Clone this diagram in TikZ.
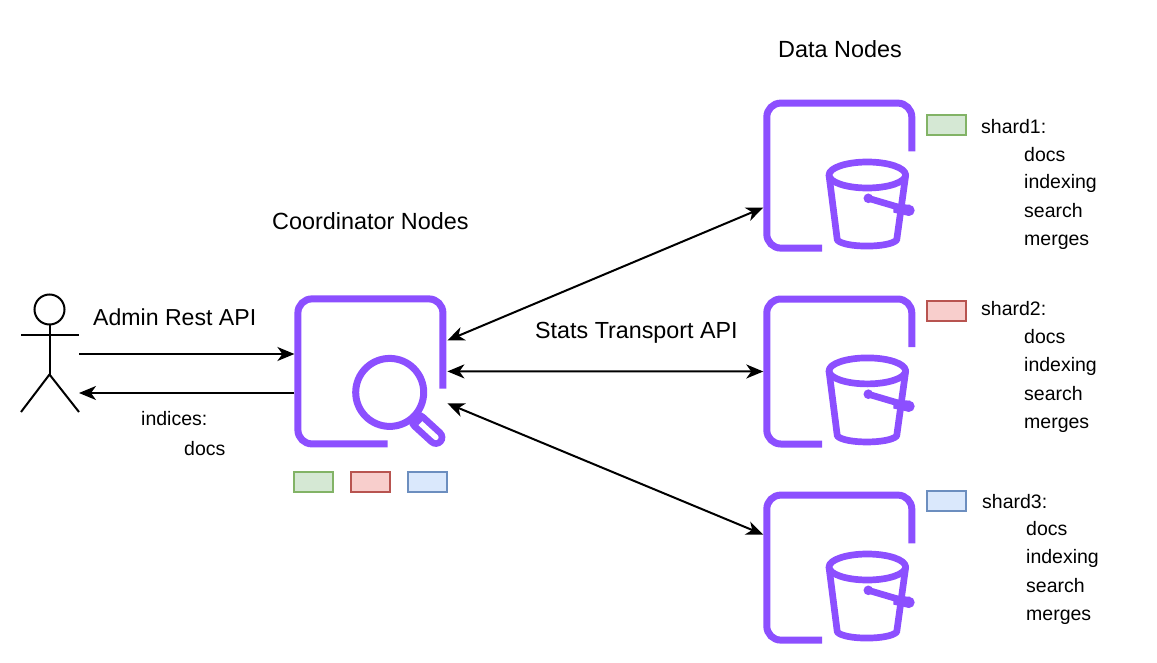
\documentclass[tikz,border=0pt]{standalone}
\usepackage{fontspec}
\setmainfont{Liberation Sans}
\usetikzlibrary{arrows.meta}
\definecolor{awspurple}{HTML}{8C4FFF}
\tikzset{
  frameline/.style={draw=awspurple,line width=7pt,rounded corners=14pt},
  bucketline/.style={draw=awspurple,line width=6.7pt,line join=round,line cap=round},
  iconbox/.style={minimum size=152pt,inner sep=0pt,outer sep=0pt},
  link/.style={draw=black,line width=2pt,>={Stealth[length=17pt,width=14pt,inset=5pt]}},
  actorline/.style={draw=black,line width=2pt},
  big/.style={anchor=base west,inner sep=0pt,font=\fontsize{23.4}{28}\selectfont},
  small/.style={anchor=base west,inner sep=0pt,font=\fontsize{19.5}{24}\selectfont},
  swatch/.style={line width=2pt,minimum width=39pt,minimum height=20pt,inner sep=0pt},
  greenswatch/.style={swatch,draw=green1,fill=green2},
  redswatch/.style={swatch,draw=red1,fill=red2},
  blueswatch/.style={swatch,draw=blue1,fill=blue2},
  searchicon/.pic={
    \draw[frameline] (72.5,17.3) -- (72.5,-72.5) -- (-72.5,-72.5) -- (-72.5,72.5) -- (17.3,72.5);
    \draw[draw=awspurple,line width=7pt] (19.3,21) circle[radius=34pt];
    \draw[draw=awspurple,line width=19pt,line cap=round] (48,50) -- (65.5,66);
    \draw[draw=white,line width=5.5pt,line cap=round] (48,50) -- (65.5,66);
    \draw[draw=awspurple,line width=7pt] (44,45.5) -- (50,51.5);
  },
  dataicon/.pic={
    \draw[frameline] (72.5,-24.3) -- (72.5,-72.5) -- (-72.5,-72.5) -- (-72.5,72.5) -- (-17.3,72.5);
    \draw[bucketline] (28,-0.6) ellipse[x radius=38.3pt,y radius=13pt];
    \draw[bucketline] (-10.3,-0.6) -- (-2,64.4) .. controls (5,72.5) and (50,72.5) .. (57.4,64.4) -- (66.4,-0.6);
    \draw[bucketline] (29,22.7) -- (70.7,35);
    \fill[awspurple] (29,22.7) circle[radius=4.8pt] (69.8,34.8) circle[radius=5.6pt];
    \fill[awspurple] (54,28) -- (71,29.2) -- (69.8,40.4) -- (54,37) -- cycle;
  }
}
\definecolor{green1}{HTML}{82B366}\definecolor{green2}{HTML}{D5E8D4}
\definecolor{red1}{HTML}{B85450}\definecolor{red2}{HTML}{F8CECC}
\definecolor{blue1}{HTML}{6C8EBF}\definecolor{blue2}{HTML}{DAE8FC}
\begin{document}
\begin{tikzpicture}[x=1pt,y=-1pt]
\useasboundingbox (0,0) rectangle (1157,663);
% icons
\node[iconbox] (coord) at (370.4,371.4) {};
\node[iconbox] (data1) at (839.3,175.6) {};
\node[iconbox] (data2) at (839.3,371.5) {};
\node[iconbox] (data3) at (839.3,567.6) {};
\pic at (coord.center) {searchicon};
\pic at (data1.center) {dataicon};
\pic at (data2.center) {dataicon};
\pic at (data3.center) {dataicon};
% actor
\node[draw=black,line width=2pt,circle,minimum size=30pt,inner sep=0pt,outer sep=0pt] (head) at (49.5,309.5) {};
\coordinate (hip) at (49.5,374.5);
\coordinate (armL) at (21,334.5);
\coordinate (armR) at (79,334.5);
\coordinate (footL) at (21,412);
\coordinate (footR) at (79,412);
\draw[actorline] (head.south) -- (hip);
\draw[actorline] (armL) -- (armR);
\draw[actorline] (footL) -- (hip) -- (footR);
% connectors
\coordinate (actorIn) at (79,354);
\coordinate (actorOut) at (79,393);
\draw[link,->] (actorIn) -- (actorIn -| coord.west);
\draw[link,->] (actorOut -| coord.west) -- (actorOut);
\draw[link,<->] ([xshift=1pt,yshift=31pt]coord.east) -- ([yshift=-32pt]data1.west);
\draw[link,<->] ([xshift=1pt]coord.east) -- (data2.west);
\draw[link,<->] ([xshift=1pt,yshift=-32pt]coord.east) -- ([yshift=33pt]data3.west);
% swatches
\node[greenswatch] (s1) at (313.5,481.5) {};
\node[redswatch] (s2) at (370.5,481.5) {};
\node[blueswatch] (s3) at (427.5,481.5) {};
\node[greenswatch] (g1) at (946.5,125) {};
\node[redswatch] (g2) at (946.5,311) {};
\node[blueswatch] (g3) at (946.5,501) {};
% labels
\node[big] (t1) at (778,58) {Data Nodes};
\node[big] (t2) at (272,229.5) {Coordinator Nodes};
\node[big,font=\fontsize{23.1}{28}\selectfont] (t3) at (93,325) {Admin Rest API};
\node[big,font=\fontsize{23.3}{28}\selectfont] (t4) at (535,338) {Stats Transport API};
\node[small] (t5) at (141,425) {indices:};
\node[small] (t6) at (184,455) {docs};
\node[small] (a0) at (981,134) {shard1:};
\node[small] (a1) at (1024,162) {docs};
\node[small] (a2) at (1024,189) {indexing};
\node[small] (a3) at (1024,218) {search};
\node[small] (a4) at (1024,246) {merges};
\node[small] (b0) at (981,316) {shard2:};
\node[small] (b1) at (1024,343) {docs};
\node[small] (b2) at (1024,371) {indexing};
\node[small] (b3) at (1024,400) {search};
\node[small] (b4) at (1024,428) {merges};
\node[small] (c0) at (982,508) {shard3:};
\node[small] (c1) at (1026,535) {docs};
\node[small] (c2) at (1026,563) {indexing};
\node[small] (c3) at (1026,592) {search};
\node[small] (c4) at (1026,620) {merges};
\end{tikzpicture}
\end{document}
